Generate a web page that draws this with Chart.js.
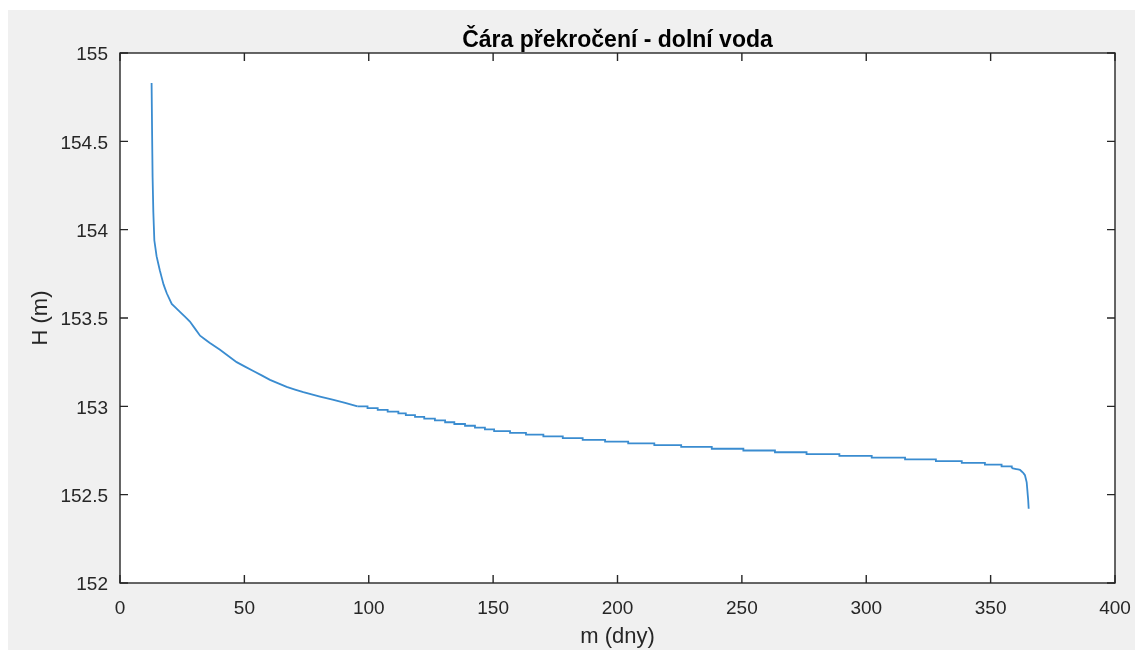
<!DOCTYPE html>
<html>
<head>
<meta charset="utf-8">
<title>Čára překročení - dolní voda</title>
<script src="https://cdn.jsdelivr.net/npm/chart.js@4.4.1/dist/chart.umd.min.js"></script>
<style>
	body { margin: 0; background: #fff; }
	#okno {
		position: absolute;
		left: 8px;
		top: 10px;
		width: 1127px;
		height: 640px;
		background: #f0f0f0;
	}
	canvas { display: block; }
</style>
</head>
<body>
<div id="okno"><canvas id="graf" width="1127" height="640"></canvas></div>
<script>
// strmý začátek křivky (den, hladina v m n. m.)
var dnyZacatek = [12.7, 12.9, 13.1, 13.4, 13.8, 14.7, 16.0, 17.5, 18.8, 20.8, 24.1, 28.1, 32.2, 36.0, 40.2, 46.9, 53.6, 60.3, 67.0, 73.7, 80.4, 90.5, 95.5];
var hZacatek = [154.83, 154.55, 154.30, 154.10, 153.94, 153.85, 153.77, 153.69, 153.64, 153.58, 153.535, 153.48, 153.40, 153.36, 153.32, 153.25, 153.20, 153.15, 153.11, 153.08, 153.055, 153.02, 153.00];

// schody po 1 cm - den, od kterého hladina platí
var dnyStupne = [95.5, 99.5, 103.6, 107.6, 111.9, 114.9, 118.6, 122.3, 126.6, 130.7, 134.4, 138.7, 142.7, 146.7, 150.4, 156.8, 163.2, 170.2, 178.0, 186.0, 195.0, 204.3, 214.8, 225.6, 237.9, 250.6, 263.3, 276.0, 289.2, 302.2, 315.6, 328.0, 338.4, 347.7, 354.4, 358.5];
var hStupne = [153.00, 152.99, 152.98, 152.97, 152.96, 152.95, 152.94, 152.93, 152.92, 152.91, 152.90, 152.89, 152.88, 152.87, 152.86, 152.85, 152.84, 152.83, 152.82, 152.81, 152.80, 152.79, 152.78, 152.77, 152.76, 152.75, 152.74, 152.73, 152.72, 152.71, 152.70, 152.69, 152.68, 152.67, 152.66, 152.65];

// konec křivky
var dnyKonec = [358.5, 360.3, 361.8, 363.0, 363.8, 364.5, 364.8, 365.1, 365.3];
var hKonec = [152.65, 152.645, 152.64, 152.625, 152.61, 152.57, 152.52, 152.47, 152.42];

var xTicks = [0, 50, 100, 150, 200, 250, 300, 350, 400];
var yTicks = [152, 152.5, 153, 153.5, 154, 154.5, 155];

var nadpis = 'Čára překročení - dolní voda';
var barvaCary = '#3a8cd0';
var barvaOs = '#262626';
var pismo = '"Liberation Sans", Arial, Helvetica, sans-serif';

function body(dny, h) {
	return dny.map(function(d, i) { return { x: d, y: h[i] }; });
}

// bílá plocha grafu, rámeček se značkami dovnitř a nadpis nad středem os
var ramecek = {
	id: 'ramecek',
	beforeDraw: function(chart) {
		var a = chart.chartArea, ctx = chart.ctx;
		ctx.save();
		ctx.fillStyle = '#ffffff';
		ctx.fillRect(a.left, a.top, a.right - a.left, a.bottom - a.top);
		ctx.restore();
	},
	afterDatasetsDraw: function(chart) {
		var a = chart.chartArea, ctx = chart.ctx;
		var sx = chart.scales.x, sy = chart.scales.y;
		var delka = 8;
		ctx.save();
		ctx.strokeStyle = barvaOs;
		ctx.lineWidth = 1.4;
		ctx.beginPath();
		sx.ticks.forEach(function(t) {
			var px = sx.getPixelForValue(t.value);
			ctx.moveTo(px, a.bottom); ctx.lineTo(px, a.bottom - delka);
			ctx.moveTo(px, a.top); ctx.lineTo(px, a.top + delka);
		});
		sy.ticks.forEach(function(t) {
			var py = sy.getPixelForValue(t.value);
			ctx.moveTo(a.left, py); ctx.lineTo(a.left + delka, py);
			ctx.moveTo(a.right, py); ctx.lineTo(a.right - delka, py);
		});
		ctx.stroke();
		ctx.strokeRect(a.left, a.top, a.right - a.left, a.bottom - a.top);

		ctx.fillStyle = '#000';
		ctx.font = 'bold 23px ' + pismo;
		ctx.textAlign = 'center';
		ctx.textBaseline = 'alphabetic';
		ctx.fillText(nadpis, (a.left + a.right) / 2, a.top - 6.5);
		ctx.restore();
	}
};

// malá tenze jen kvůli tomu, aby se strmý začátek nekreslil zkrácenou cestou po celých pixelech
var spolecne = {
	borderColor: barvaCary,
	borderWidth: 1.8,
	pointRadius: 0,
	showLine: true,
	fill: false,
	tension: 0.0001
};

new Chart(document.getElementById('graf').getContext('2d'), {
	type: 'scatter',
	data: {
		datasets: [
			Object.assign({ label: 'začátek', data: body(dnyZacatek, hZacatek) }, spolecne),
			Object.assign({ label: 'schody', data: body(dnyStupne, hStupne), stepped: 'before' }, spolecne),
			Object.assign({ label: 'konec', data: body(dnyKonec, hKonec) }, spolecne)
		]
	},
	options: {
		responsive: false,
		animation: false,
		devicePixelRatio: 1,
		layout: { padding: { top: 43, right: 20, bottom: 0, left: 0 } },
		plugins: {
			legend: { display: false },
			tooltip: { enabled: false },
			title: { display: false }
		},
		scales: {
			x: {
				type: 'linear',
				min: 0,
				max: 400,
				afterBuildTicks: function(s) { s.ticks = xTicks.map(function(v) { return { value: v }; }); },
				afterFit: function(s) { s.height = 67; s.paddingLeft = 0; s.paddingRight = 0; },
				grid: { display: false, drawTicks: false },
				border: { display: false },
				ticks: {
					color: barvaOs,
					font: { family: pismo, size: 19 },
					padding: 14,
					maxRotation: 0,
					autoSkip: false,
					callback: function(v) { return String(v); }
				},
				title: {
					display: true,
					text: 'm (dny)',
					color: barvaOs,
					font: { family: pismo, size: 22 },
					padding: { top: 0, bottom: 0 }
				}
			},
			y: {
				type: 'linear',
				min: 152,
				max: 155,
				afterBuildTicks: function(s) { s.ticks = yTicks.map(function(v) { return { value: v }; }); },
				afterFit: function(s) { s.width = 112; s.paddingTop = 0; s.paddingBottom = 0; },
				grid: { display: false, drawTicks: false },
				border: { display: false },
				ticks: {
					color: barvaOs,
					font: { family: pismo, size: 19 },
					padding: 12,
					labelOffset: 2,
					autoSkip: false,
					callback: function(v) { return String(v); }
				},
				title: {
					display: true,
					text: 'H (m)',
					color: barvaOs,
					font: { family: pismo, size: 22 },
					padding: { top: 20, bottom: 0 }
				}
			}
		}
	},
	plugins: [ramecek]
});
</script>
</body>
</html>
